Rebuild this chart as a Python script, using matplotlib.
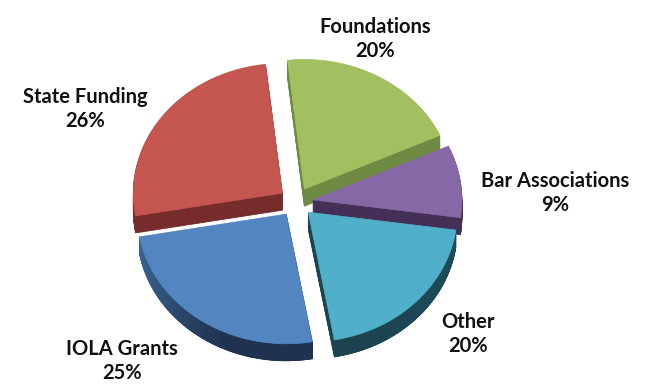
import numpy as np
import matplotlib
matplotlib.use("Agg")
import matplotlib.pyplot as plt
from matplotlib.colors import to_rgb

# Funding shares, clockwise from the first slice
labels = ["Foundations", "Bar Associations", "Other", "IOLA Grants", "State Funding"]
shares = [20, 9, 20, 25, 26]

top_colors = ["#a2c05f", "#8768a7", "#50afc9", "#5385c0", "#c4554f"]
rim_light = ["#6f8a42", "#453257", "#1f4e5c", "#3f6da0", "#7a2f2d"]
rim_dark = ["#6f8a42", "#443056", "#1c4450", "#1f3350", "#752c2a"]

label_pos = [(375, 39), (555, 193), (468, 334), (122, 361), (85, 109)]

CX, CY = 296, 202
RADIUS = 149
TILT = 0.87
DEPTH = 17
EXPLODE = 17
START = -6.5


def rim_point(cx, cy, theta):
    t = np.radians(theta)
    return cx + RADIUS * np.sin(t), cy - RADIUS * TILT * np.cos(t)


def draw_slice(theta0, theta1, top, light, dark):
    mid = np.radians((theta0 + theta1) / 2)
    cx = CX + EXPLODE * np.sin(mid)
    cy = CY - EXPLODE * TILT * np.cos(mid)
    thetas = np.linspace(theta0, theta1, 80)
    xs, ys = rim_point(cx, cy, thetas)
    outline_x = np.r_[cx, xs]
    outline_y = np.r_[cy, ys]

    # solid body first, then the curved side with its shading
    for d in np.arange(1, DEPTH + 1):
        ax.fill(outline_x, outline_y + d, color=dark, lw=0.6)
    c0, c1 = np.array(to_rgb(light)), np.array(to_rgb(dark))
    for i in range(len(thetas) - 1):
        if np.cos(np.radians(thetas[i])) > 0:
            continue
        # light on the far left of the rim, dark towards the front
        f = min(1.0, abs(np.sin(np.radians(thetas[i]))) ** 2 * -1 + 1 + 0.15)
        col = c0 + (c1 - c0) * f
        ax.fill([xs[i], xs[i + 1], xs[i + 1], xs[i]],
                [ys[i], ys[i + 1], ys[i + 1] + DEPTH, ys[i] + DEPTH],
                color=col, lw=0.5)
    ax.fill(outline_x, outline_y, color=top, lw=0.5)


fig = plt.figure(figsize=(6.48, 3.85), dpi=100)
ax = fig.add_axes([0, 0, 1, 1])
ax.set_xlim(0, 648)
ax.set_ylim(385, 0)
ax.axis("off")

edges = START + np.cumsum([0] + shares) * 3.6

# back slices first so the front ones sit on top
for i in [4, 0, 1, 3, 2]:
    draw_slice(edges[i], edges[i + 1], top_colors[i], rim_light[i], rim_dark[i])

for name, share, (x, y) in zip(labels, shares, label_pos):
    ax.text(x, y, f"{name}\n{share}%", ha="center", va="center", family="Lato",
            weight="bold", fontsize=14.5, color="#111111", linespacing=1.25)

fig.savefig("out.png", dpi=100)
